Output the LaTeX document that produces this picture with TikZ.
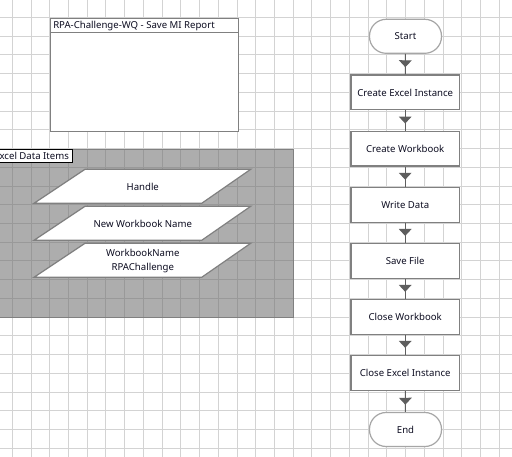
\documentclass[tikz,border=0pt]{standalone}
\usepackage{fontspec}
\setmainfont{Noto Sans}
\usetikzlibrary{arrows.meta,decorations.markings}
\definecolor{gridc}{HTML}{D3D3D3}
\definecolor{areafillc}{HTML}{ADADAD}
\definecolor{areagridc}{HTML}{999999}
\definecolor{borderc}{HTML}{808080}
\definecolor{termc}{HTML}{A6A6A6}
\definecolor{flowc}{HTML}{5E5E5E}
\definecolor{txtc}{HTML}{0C0C20}
\tikzset{
  gridline/.style={draw=gridc, line width=0.75pt},
  areagrid/.style={draw=areagridc, line width=0.75pt},
  txt/.style={font=\fontsize{7.2}{10.5}\selectfont, text=txtc, inner sep=0pt},
  proc/.style={draw=borderc, line width=1pt, fill=white, minimum width=81.2pt, minimum height=26pt, inner sep=0pt, font=\fontsize{7.2}{10.5}\selectfont, text=txtc},
  term/.style={draw=termc, line width=0.9pt, fill=white, rounded corners=12.5pt, minimum width=54pt, minimum height=25.5pt, inner sep=0pt, font=\fontsize{7.2}{10.5}\selectfont, text=txtc},
  para/.style={draw=borderc, line width=0.9pt, fill=white},
  flow/.style={draw=flowc, line width=0.75pt, postaction={decorate},
    decoration={markings, mark=at position -5.4pt with {\arrow[flowc]{Triangle[width=9.5pt,length=5.2pt]}}}},
}
\begin{document}
\begin{tikzpicture}[x=0.75pt,y=-0.75pt]
\clip (0,0) rectangle (512,457);
\fill[white] (0,0) rectangle (512,457);
% background grid
\foreach \k in {0,...,26} \draw[gridline] ({12.3+18.73*\k},0) -- ({12.3+18.73*\k},457);
\foreach \k in {0,...,23} \draw[gridline] (0,{17.5+18.73*\k}) -- (512,{17.5+18.73*\k});
% data items area
\fill[areafillc] (-5,149.3) rectangle (293.3,317.3);
\begin{scope}
\clip (-5,149.3) rectangle (293.3,317.3);
\foreach \k in {0,...,26} \draw[areagrid] ({12.3+18.73*\k},0) -- ({12.3+18.73*\k},457);
\foreach \k in {0,...,23} \draw[areagrid] (0,{17.5+18.73*\k}) -- (512,{17.5+18.73*\k});
\end{scope}
\draw[draw=borderc, line width=1.1pt] (-5,149.3) rectangle (293.3,317.3);
% area label
\draw[black, line width=0.8pt, fill=white] (-5,149.3) rectangle (72.3,162.6);
\node[txt, anchor=east] (arealabel) at (69.2,156.2) {Excel Data Items};
% title box
\draw[draw=borderc, line width=0.9pt, fill=white] (50.5,18.3) rectangle (238.7,131.3);
\draw[draw=borderc, line width=0.9pt] (50.5,32.7) -- (238.7,32.7);
\node[txt, anchor=west] (title) at (53,25.6) {RPA-Challenge-WQ - Save MI Report};
% data items
\draw[para] (85,169.3) -- (250.7,169.3) -- (201.7,203.3) -- (34,203.3) -- cycle;
\node[txt] (handle) at (142.8,186.5) {Handle};
\draw[para] (85,206.3) -- (250.7,206.3) -- (201.7,240.3) -- (34,240.3) -- cycle;
\node[txt] (newwb) at (142.8,223.5) {New Workbook Name};
\draw[para] (85,243.3) -- (250.7,243.3) -- (201.7,277.3) -- (34,277.3) -- cycle;
\node[txt, align=center] (wbname) at (142.8,260.6) {WorkbookName\\RPAChallenge};
% flowchart
\node[term] (start) at (405.5,36.3) {Start};
\node[proc] (cei) at (405.2,92.4) {Create Excel Instance};
\node[proc] (cwb) at (405.2,148.7) {Create Workbook};
\node[proc] (wd) at (405.2,204.9) {Write Data};
\node[proc] (sf) at (405.2,261.1) {Save File};
\node[proc] (clwb) at (405.2,317.0) {Close Workbook};
\node[proc] (clei) at (405.2,373.0) {Close Excel Instance};
\node[term] (end) at (405.5,429.5) {End};
\draw[flow] (start) -- (cei);
\draw[flow] (cei) -- (cwb);
\draw[flow] (cwb) -- (wd);
\draw[flow] (wd) -- (sf);
\draw[flow] (sf) -- (clwb);
\draw[flow] (clwb) -- (clei);
\draw[flow] (clei) -- (end);
\end{tikzpicture}
\end{document}
